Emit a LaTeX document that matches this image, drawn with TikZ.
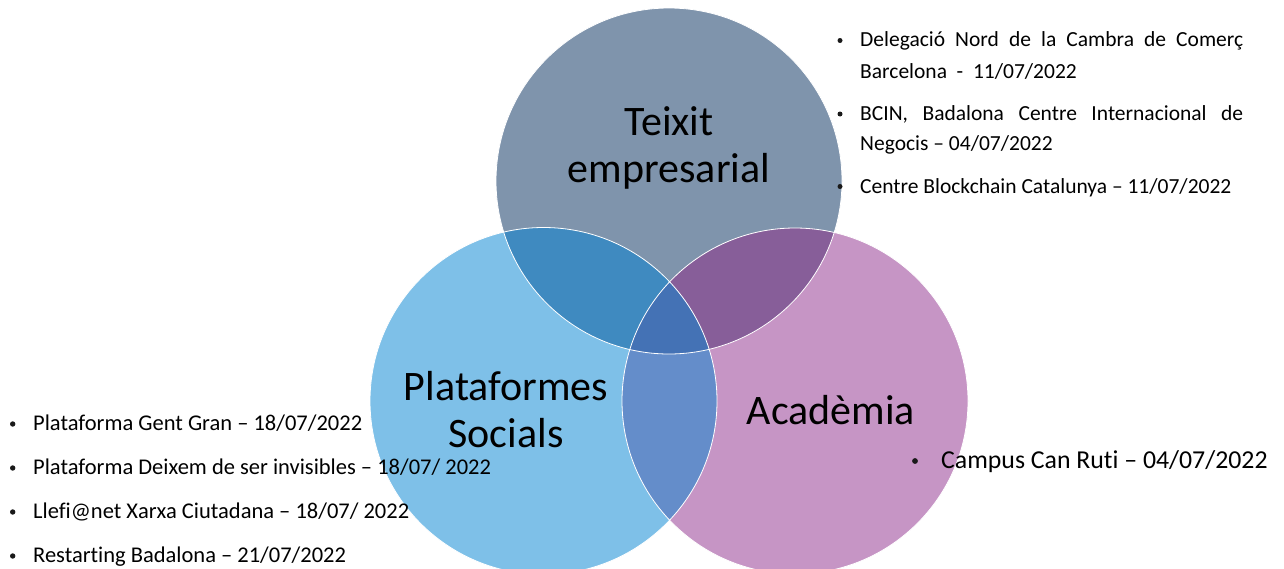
\documentclass[tikz,border=0pt]{standalone}
\usepackage{fontspec}
\setmainfont{Carlito}[Ligatures=NoCommon]
\definecolor{cTop}{HTML}{7F94AC}
\definecolor{cLeft}{HTML}{7EC0E8}
\definecolor{cRight}{HTML}{C695C5}
\definecolor{cTL}{HTML}{3F8AC0}
\definecolor{cTR}{HTML}{875E99}
\definecolor{cLR}{HTML}{648DCA}
\definecolor{cAll}{HTML}{4472B5}
\begin{document}
\begin{tikzpicture}[x=1pt,y=-1pt,
  title/.style={font=\fontsize{42}{47}\selectfont, inner sep=0, anchor=base},
  itemA/.style={font=\fontsize{21.5}{25}\selectfont, inner sep=0, anchor=base west},
  itemB/.style={font=\fontsize{22.5}{26}\selectfont, inner sep=0, anchor=base west},
  itemC/.style={font=\fontsize{25.8}{29}\selectfont, inner sep=0, anchor=base west},
  dot/.style={circle, fill=black!90, inner sep=0, minimum size=#1},
  dot/.default=5.4pt,
  rim/.style={draw=white, line width=0.8pt}]
\useasboundingbox (0,0) rectangle (1284,568);
\def\Tc{(669,181) circle (173pt)}
\def\Lc{(543.5,401) circle (173.5pt)}
\def\Rc{(795,401) circle (173pt)}
% circles
\fill[cTop] \Tc;
\fill[cLeft] \Lc;
\fill[cRight] \Rc;
\begin{scope}\clip \Tc; \fill[cTL] \Lc; \fill[cTR] \Rc; \end{scope}
\begin{scope}\clip \Lc; \fill[cLR] \Rc; \end{scope}
\begin{scope}\clip \Tc; \clip \Lc; \fill[cAll] \Rc; \end{scope}
\draw[rim] \Tc; \draw[rim] \Lc; \draw[rim] \Rc;
% titles
\node[title] (t1) at (669,135) {Teixit};
\node[title] (t2) at (669,182) {empresarial};
\node[title] (l1) at (506,400) {Plataformes};
\node[title] (l2) at (506,447) {Socials};
\node[title] (r1) at (831,424) {Acadèmia};
% top-right list
\node[dot=5pt] (b1) at (840,40.5) {};
\node[itemA] (a1) at (860,46.7) {\makebox[383pt][s]{Delegació Nord de la Cambra de Comerç}};
\node[itemA] (a2) at (860,78) {Barcelona~ -~ 11/07/2022};
\node[dot=5pt] (b2) at (840,114) {};
\node[itemA] (a3) at (860,120) {\makebox[383pt][s]{BCIN, Badalona Centre Internacional de}};
\node[itemA] (a4) at (860,150) {Negocis – 04/07/2022};
\node[dot=5pt] (b3) at (840,186.5) {};
\node[itemA] (a5) at (860,193) {Centre Blockchain Catalunya – 11/07/2022};
% left list
\node[dot] (c1) at (12.7,424) {};
\node[itemB] (d1) at (33,430) {Plataforma Gent Gran – 18/07/2022};
\node[dot] (c2) at (12.7,468) {};
\node[itemB] (d2) at (33,474) {Plataforma Deixem de ser invisibles – 18/07/ 2022};
\node[dot] (c3) at (12.7,512) {};
\node[itemB] (d3) at (33,518) {Llefi@net Xarxa Ciutadana – 18/07/ 2022};
\node[dot] (c4) at (12.7,556) {};
\node[itemB] (d4) at (33,562) {Restarting Badalona – 21/07/2022};
% right item
\node[dot=5.8pt] (e1) at (915,461) {};
\node[itemC] (e2) at (941,468) {Campus Can Ruti – 04/07/2022};
\end{tikzpicture}
\end{document}
